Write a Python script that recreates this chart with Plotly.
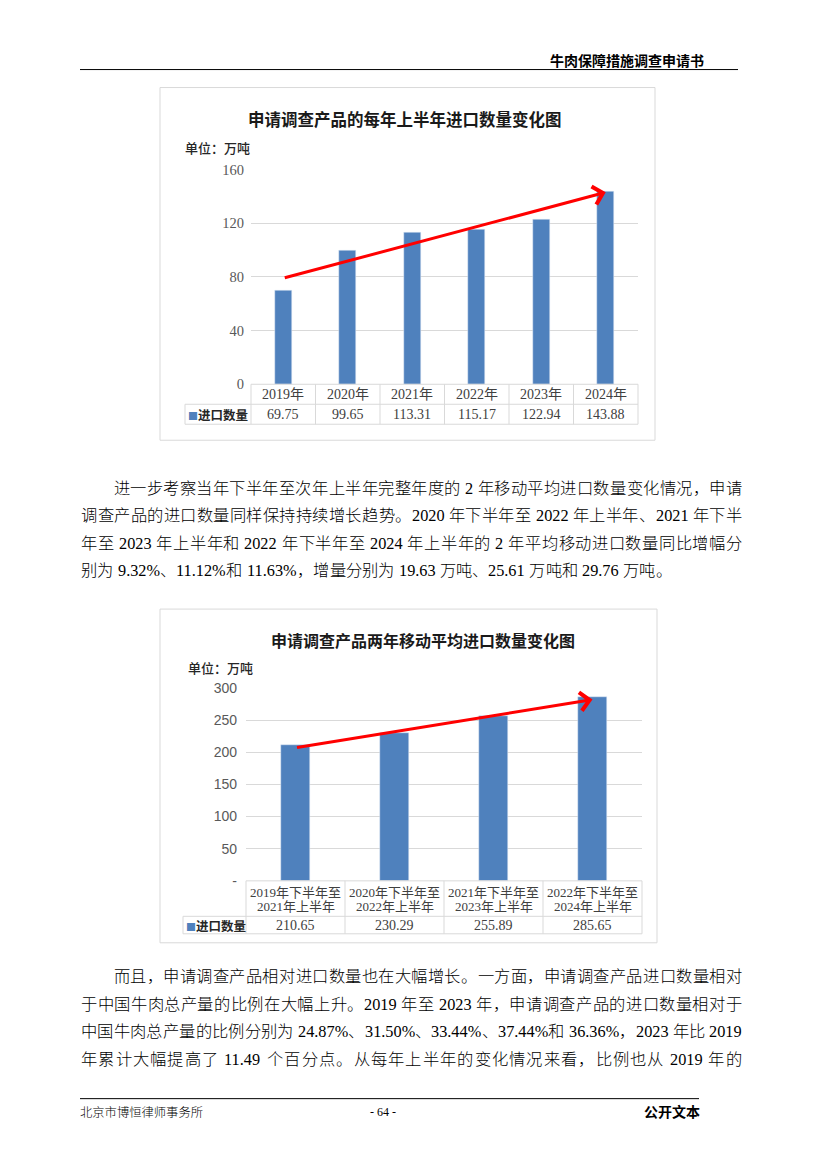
import plotly.graph_objects as go

# page (reference picture) size and the browser's default body margin
PAGE_W, PAGE_H = 827, 1170
BODY_MARGIN = 8
W, H = PAGE_W - 2 * BODY_MARGIN, PAGE_H - 2 * BODY_MARGIN
# empirical vertical calibration of the photographed page
Y_OFF, Y_SCALE = 7.5, 0.987

# ---------------- data ----------------
years = ['2019年', '2020年', '2021年', '2022年', '2023年', '2024年']
h1_imports = [69.75, 99.65, 113.31, 115.17, 122.94, 143.88]

period_from = ['2019年下半年至', '2020年下半年至', '2021年下半年至', '2022年下半年至']
period_to = ['2021年上半年', '2022年上半年', '2023年上半年', '2024年上半年']
ma_imports = [210.65, 230.29, 255.89, 285.65]

y1_ticks = [0, 40, 80, 120, 160]
y1_ticktext = ['0', '40', '80', '120', '160']
y2_ticks = [0, 50, 100, 150, 200, 250, 300]
y2_ticktext = ['-', '50', '100', '150', '200', '250', '300']

title1 = '申请调查产品的每年上半年进口数量变化图'
title2 = '申请调查产品两年移动平均进口数量变化图'
unit_label = '单位：万吨'
series_name = '进口数量'

# trend arrows: (start index, start value, end index, end value)
arrow1 = (0, 79, 5, 143)
arrow2 = (0, 207, 3, 282)

header_text = '牛肉保障措施调查申请书'
footer_left = '北京市博恒律师事务所'
footer_mid = '- 64 -'
footer_right = '公开文本'

para1 = [
    '进一步考察当年下半年至次年上半年完整年度的 2 年移动平均进口数量变化情况，申请',
    '调查产品的进口数量同样保持持续增长趋势。2020 年下半年至 2022 年上半年、2021 年下半',
    '年至 2023 年上半年和 2022 年下半年至 2024 年上半年的 2 年平均移动进口数量同比增幅分',
    '别为 9.32%、11.12%和 11.63%，增量分别为 19.63 万吨、25.61 万吨和 29.76 万吨。',
]
para2 = [
    '而且，申请调查产品相对进口数量也在大幅增长。一方面，申请调查产品进口数量相对',
    '于中国牛肉总产量的比例在大幅上升。2019 年至 2023 年，申请调查产品的进口数量相对于',
    '中国牛肉总产量的比例分别为 24.87%、31.50%、33.44%、37.44%和 36.36%，2023 年比 2019',
    '年累计大幅提高了 11.49 个百分点。从每年上半年的变化情况来看，比例也从 2019 年的',
]

# ---------------- styles ----------------
BAR = '#4F81BD'
GRID = '#d9d9d9'
TXT = '#404040'
CJK = 'Noto Sans CJK SC'
SERIF = 'Liberation Serif, Noto Sans CJK SC'
SANS = 'Liberation Sans, Noto Sans CJK SC'


def px(x):
    """page pixel x -> paper coordinate"""
    return (x - BODY_MARGIN) / W


def py(y):
    """page pixel y -> paper coordinate"""
    y = (y - Y_OFF) / Y_SCALE
    return 1 - (y - BODY_MARGIN) / H


fig = go.Figure()
shapes = []
annotations = []


def ann(text, x, y, size, family=CJK, color='#000000', weight='normal',
        xanchor='left', yanchor='middle', xref='paper', yref='paper'):
    annotations.append(dict(text=text, x=x, y=y, xref=xref, yref=yref,
                            xanchor=xanchor, yanchor=yanchor, showarrow=False,
                            borderpad=0, borderwidth=0,
                            font=dict(family=family, size=size, color=color,
                                      weight=weight)))


def line_shape(x0, y0, x1, y1, color, width=1, xref='paper', yref='paper'):
    shapes.append(dict(type='line', x0=x0, y0=y0, x1=x1, y1=y1, xref=xref,
                       yref=yref, line=dict(color=color, width=width)))


# ---------------- chart geometry (page pixels) ----------------
C1 = dict(x0=251, x1=638, ytop=169, ybot=384, ymid=404, yend=424, xleg=185,
          frame=(160, 87, 655, 440))
C2 = dict(x0=246, x1=642, ytop=688, ybot=881, ymid=916.5, yend=934, xleg=183,
          frame=(160, 609, 657, 943))

fig.add_trace(go.Bar(x=years, y=h1_imports, marker_color=BAR, width=0.27,
                     name=series_name, xaxis='x', yaxis='y', hoverinfo='y'))
fig.add_trace(go.Bar(x=[a + b for a, b in zip(period_from, period_to)],
                     y=ma_imports, marker_color=BAR, width=0.29,
                     name=series_name, xaxis='x2', yaxis='y2', hoverinfo='y'))


def draw_table(c, xax, yax, n, cat_rows, vals, cat_font, cat_size, val_size,
               cat_ys):
    xr = xax + ' domain'
    yr = yax + ' domain'
    ya0, ya1 = py(c['ybot']), py(c['ytop'])

    def xd(p):
        return (p - c['x0']) / (c['x1'] - c['x0'])

    def yd(p):
        return (py(p) - ya0) / (ya1 - ya0)

    xl = xd(c['xleg'])
    # horizontal lines
    line_shape(0, 0, 1, 0, GRID, 1, xr, yr)
    line_shape(xl, yd(c['ymid']), 1, yd(c['ymid']), GRID, 1, xr, yr)
    line_shape(xl, yd(c['yend']), 1, yd(c['yend']), GRID, 1, xr, yr)
    # vertical lines
    for i in range(n + 1):
        line_shape(i / n, 0, i / n, yd(c['yend']), GRID, 1, xr, yr)
    line_shape(xl, yd(c['ymid']), xl, yd(c['yend']), GRID, 1, xr, yr)
    # category texts
    for r, row in enumerate(cat_rows):
        for i, t in enumerate(row):
            ann(t, i, yd(cat_ys[r]), cat_size, cat_font, TXT, 'normal',
                'center', 'middle', xax, yr)
    vy = yd((c['ymid'] + c['yend']) / 2)
    for i, v in enumerate(vals):
        ann(f'{v:.2f}', i, vy, val_size, SERIF, TXT, 'normal', 'center',
            'middle', xax, yr)
    # legend cell
    ann(f"<span style='color:{BAR};font-size:10px'>■</span>{series_name}",
        xd(c['xleg'] + 3), vy, 12.5, CJK, '#262626', 'bold', 'left',
        'middle', xr, yr)


draw_table(C1, 'x', 'y', len(years), [years], h1_imports, SERIF, 14, 14,
           [(C1['ybot'] + C1['ymid']) / 2])
draw_table(C2, 'x2', 'y2', len(period_from), [period_from, period_to],
           ma_imports, SERIF, 13, 14, [892.7, 906.7])

# frames
for c in (C1, C2):
    fx0, fy0, fx1, fy1 = c['frame']
    shapes.append(dict(type='rect', xref='paper', yref='paper',
                       x0=px(fx0), y0=py(fy0), x1=px(fx1), y1=py(fy1),
                       line=dict(color=GRID, width=1), layer='below'))

# titles and unit labels
ann(title1, px(405), py(118), 16.5, CJK, '#1a1a1a', 'bold', 'center')
ann(unit_label, px(185), py(147), 13, CJK, '#262626', 500, 'left')
ann(title2, px(423), py(640), 16, CJK, '#1a1a1a', 'bold', 'center')
ann(unit_label, px(188), py(667), 13, CJK, '#262626', 500, 'left')

# trend arrows
for (sx, sy, ex, ey), xa, ya in ((arrow1, 'x', 'y'), (arrow2, 'x2', 'y2')):
    annotations.append(dict(text='', x=ex, y=ey, ax=sx, ay=sy, xref=xa,
                            yref=ya, axref=xa, ayref=ya, showarrow=True,
                            arrowhead=4, arrowsize=1.2, arrowwidth=3,
                            arrowcolor='#ff0000', standoff=0,
                            startstandoff=0))

# ---------------- page header / footer ----------------
ann(header_text, px(550), py(59), 14, CJK, '#000000', 'bold', 'left')
line_shape(px(80), py(69), px(738), py(69), '#000000', 1)
line_shape(px(80), py(1099), px(699), py(1099), '#000000', 1)
ann(footer_left, px(80), py(1112), 12.3, CJK, '#000000', 300, 'left')
ann(footer_mid, px(383), py(1112), 12, SERIF, '#000000', 'normal', 'center')
ann(footer_right, px(644), py(1111), 14, CJK, '#000000', 'bold', 'left')

# ---------------- body text (justified) ----------------
FS = 16.3
LEFT, RIGHT = 81, 742
WIDTHS = {'.': 0.25, '%': 0.833, ' ': 0.25, ',': 0.25}


def char_w(ch):
    if ord(ch) >= 0x2E80:
        return 1.0
    return WIDTHS.get(ch, 0.5)


def tokenize(s):
    toks, buf = [], ''
    for ch in s:
        if ord(ch) >= 0x2E80 or ch == ' ':
            if buf:
                toks.append(buf)
                buf = ''
            toks.append(ch)
        else:
            buf += ch
    if buf:
        toks.append(buf)
    return toks


def add_line(s, x_left, y, justify):
    toks = tokenize(s)
    widths = [sum(char_w(c) for c in t) * FS for t in toks]
    nat = sum(widths)
    gap = (RIGHT - x_left - nat) / (len(toks) - 1) if justify else 0.0
    x = x_left
    for t, w in zip(toks, widths):
        if t.strip():
            ann(t, px(x), py(y), FS, SERIF, '#000000', 300, 'left')
        x += w + gap


def add_para(lines, y0, pitch, ends_here):
    for k, s in enumerate(lines):
        indent = 2 * FS if k == 0 else 0
        last = ends_here and k == len(lines) - 1
        add_line(s, LEFT + indent, y0 + k * pitch, not last)


add_para(para1, 488, 27.5, True)
add_para(para2, 977, 27.5, False)   # paragraph continues on the next page

# ---------------- layout ----------------
common_x = dict(showticklabels=False, showgrid=False, zeroline=False,
                showline=False, ticks='', fixedrange=True, type='category')
fig.update_layout(
    width=W, height=H,
    margin=dict(l=0, r=0, t=0, b=0),
    paper_bgcolor='white', plot_bgcolor='white',
    showlegend=False, bargap=0,
    xaxis=dict(domain=[px(C1['x0']), px(C1['x1'])],
               range=[-0.5, len(years) - 0.5], anchor='y', **common_x),
    yaxis=dict(domain=[py(C1['ybot']), py(C1['ytop'])], range=[0, 160],
               tickvals=y1_ticks, ticktext=y1_ticktext, showgrid=True,
               gridcolor=GRID, gridwidth=1, zeroline=False, showline=False,
               ticks='', ticklabelstandoff=6, fixedrange=True, anchor='x',
               tickfont=dict(family=SERIF, size=14.5, color='#595959')),
    xaxis2=dict(domain=[px(C2['x0']), px(C2['x1'])],
                range=[-0.5, len(period_from) - 0.5], anchor='y2',
                **common_x),
    yaxis2=dict(domain=[py(C2['ybot']), py(C2['ytop'])], range=[0, 300],
                tickvals=y2_ticks, ticktext=y2_ticktext, showgrid=True,
                gridcolor=GRID, gridwidth=1, zeroline=False, showline=False,
                ticks='', ticklabelstandoff=8, fixedrange=True, anchor='x2',
                tickfont=dict(family=SANS, size=14, color='#595959')),
    shapes=shapes,
    annotations=annotations,
)

fig.write_html('out.html', config={'displayModeBar': False})
